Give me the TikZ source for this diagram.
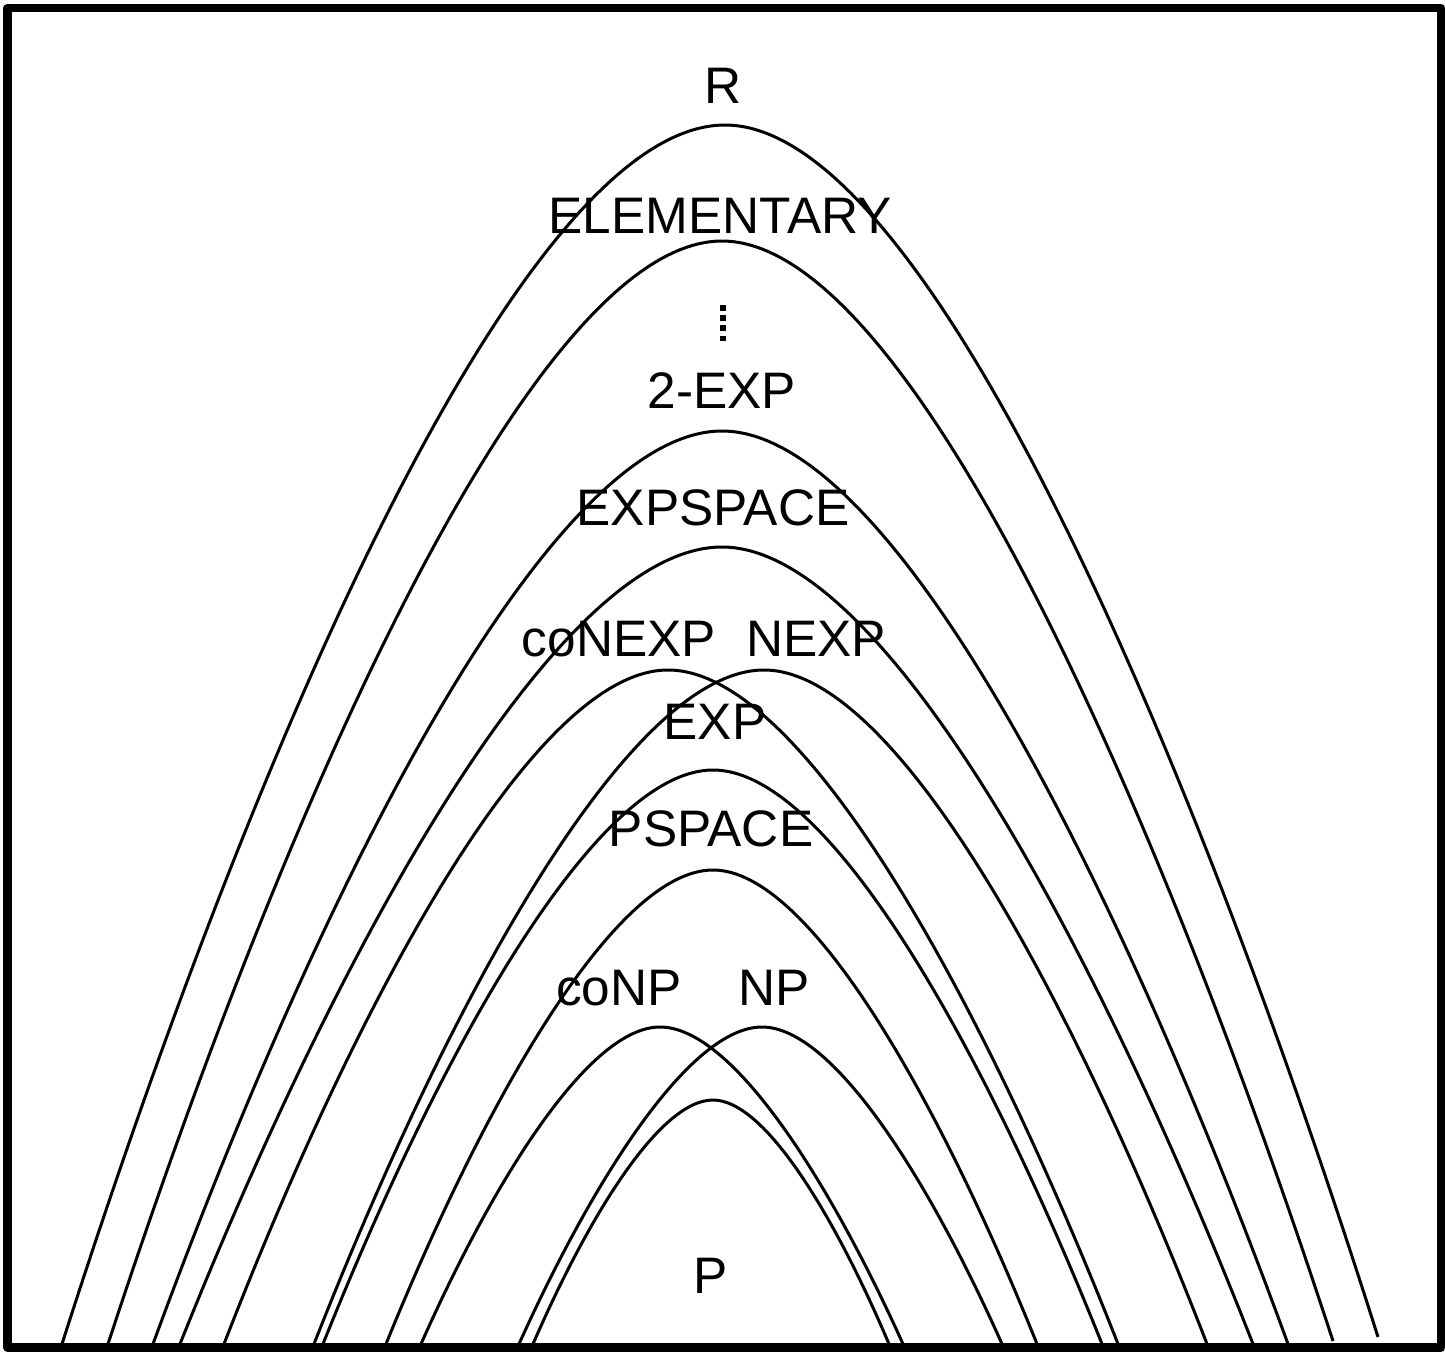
\documentclass[tikz,border=0pt]{standalone}
\usepackage{fontspec}
\setmainfont{Liberation Sans}
\tikzstyle{bound}=[line width=0.03cm]
\tikzstyle{cls}=[font=\fontsize{14.6}{17}\selectfont, anchor=base, inner sep=0pt]
\tikzstyle{frame}=[line width=0.085cm, line join=round]
% #1 left foot x, #2/#3 top, #4/#5 right foot
\newcommand{\classcurve}[5]{%
  \draw[bound] (#1,1344)
    .. controls ({#2+0.7*(#1-#2)},{#3+0.49*(1344-#3)}) and ({#2+0.3*(#1-#2)},#3) .. (#2,#3)
    .. controls ({#2+0.3*(#4-#2)},#3) and ({#2+0.7*(#4-#2)},{#3+0.49*(#5-#3)}) .. (#4,#5);}

\begin{document}
\begin{tikzpicture}[x=0.01cm, y=-0.01cm]
  \useasboundingbox (0,0) rectangle (1445,1351);
  \draw[frame] (7.5,8) rectangle (1441,1347.5);

  % outer to inner
  \classcurve{62}{725}{125}{1378}{1337}
  \classcurve{108}{722}{241}{1333}{1341}
  \classcurve{153}{722}{431}{1288}{1344}
  \classcurve{180}{722}{547}{1253}{1344}
  \classcurve{224}{668}{670}{1118}{1344}
  \classcurve{314}{764}{670}{1207}{1344}
  \classcurve{323}{713}{770}{1102}{1344}
  \classcurve{386}{713}{870}{1037}{1344}
  \classcurve{421}{660}{1027}{903}{1344}
  \classcurve{519}{762}{1027}{1002}{1344}
  \classcurve{533}{713}{1100}{889}{1344}

  \node[cls] (R) at (723,103) {R};
  \node[cls] (elem) at (720,233) {ELEMENTARY};
  \draw[line width=0.055cm, dash pattern=on 0.055cm off 0.047cm] (723,305) -- (723,342);
  \node[cls] (exp2) at (722,408) {2-EXP};
  \node[cls] (expspace) at (713,525) {EXPSPACE};
  \node[cls] (conexp) at (619,656) {coNEXP};
  \node[cls] (nexp) at (816,656) {NEXP};
  \node[cls] (exp) at (715,739) {EXP};
  \node[cls] (pspace) at (711,846) {PSPACE};
  \node[cls] (conp) at (619,1005) {coNP};
  \node[cls] (np) at (774,1005) {NP};
  \node[cls] (P) at (711,1293) {P};
\end{tikzpicture}
\end{document}
